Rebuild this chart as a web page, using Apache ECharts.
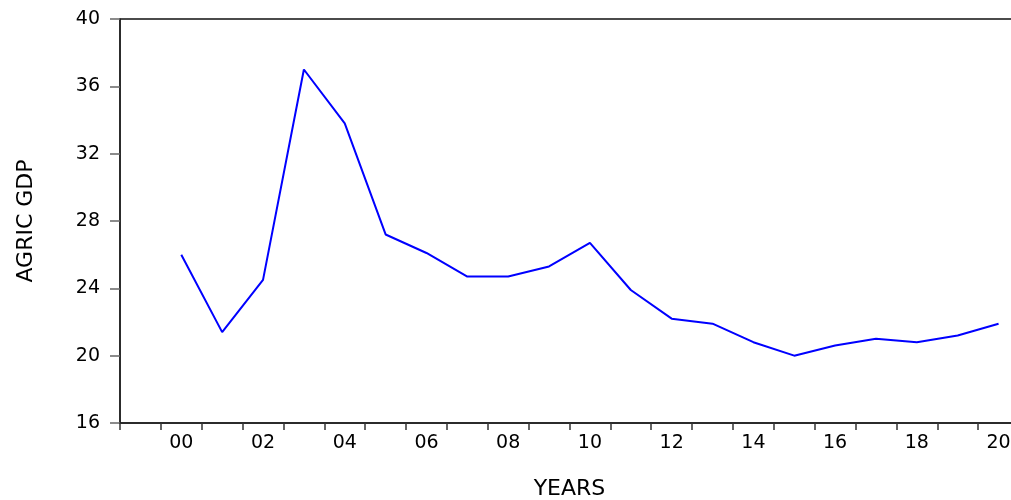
<!DOCTYPE html>
<html>
<head>
<meta charset="utf-8">
<script src="https://cdn.jsdelivr.net/npm/echarts@6/dist/echarts.min.js"></script>
<style>
  html, body { margin: 0; padding: 0; background: #fff; overflow: hidden; }
  /* plot runs a little past the right edge, like the cropped original */
  #main { width: 1020px; height: 500px; }
</style>
</head>
<body>
<div id="main"></div>
<script>
// years on the axis, 1999 is an empty band like the original plot
var years = ['1999', '2000', '2001', '2002', '2003', '2004', '2005', '2006', '2007', '2008', '2009',
  '2010', '2011', '2012', '2013', '2014', '2015', '2016', '2017', '2018', '2019', '2020'];
var agricGdp = ['-', 26.0, 21.4, 24.5, 37.0, 33.8, 27.2, 26.1, 24.7, 24.7, 25.3,
  26.7, 23.9, 22.2, 21.9, 20.8, 20.0, 20.6, 21.0, 20.8, 21.2, 21.9];
var yMin = 16, yMax = 40, yStep = 4;

var chart = echarts.init(document.getElementById('main'), null, { renderer: 'canvas' });

var option = {
  animation: false,
  backgroundColor: '#fff',
  grid: {
    left: 120,
    right: 1,
    top: 19,
    bottom: 77,
    outerBoundsMode: 'none',
    show: true,
    borderColor: '#111',
    borderWidth: 1.5
  },
  xAxis: {
    type: 'category',
    data: years,
    boundaryGap: true,
    name: 'YEARS',
    nameLocation: 'middle',
    nameGap: 55,
    nameTextStyle: {
      fontFamily: 'DejaVu Sans',
      fontSize: 22,
      color: '#000'
    },
    axisLine: { lineStyle: { color: '#222', width: 1.5 } },
    axisTick: {
      show: true,
      interval: 0,
      length: 7,
      lineStyle: { color: '#333', width: 1.5 }
    },
    axisLabel: {
      interval: function (i, v) { return parseInt(v) % 2 === 0; },
      formatter: function (v) { return v.slice(2); },
      margin: 11,
      fontFamily: 'DejaVu Sans',
      fontSize: 19,
      color: '#000'
    },
    splitLine: { show: false }
  },
  yAxis: {
    type: 'value',
    min: yMin,
    max: yMax,
    interval: yStep,
    name: 'AGRIC GDP',
    nameLocation: 'middle',
    nameGap: 83,
    nameTextStyle: {
      fontFamily: 'DejaVu Sans',
      fontSize: 22,
      color: '#000'
    },
    axisLine: { show: true, lineStyle: { color: '#222', width: 1.5 } },
    axisTick: {
      show: true,
      length: 10,
      lineStyle: { color: '#666', width: 1.5 }
    },
    axisLabel: {
      margin: 20,
      fontFamily: 'DejaVu Sans',
      fontSize: 19,
      color: '#000'
    },
    splitLine: { show: false }
  },
  series: [
    {
      name: 'AGRIC GDP',
      type: 'line',
      data: agricGdp,
      showSymbol: false,
      symbol: 'none',
      connectNulls: false,
      lineStyle: { color: '#0000ff', width: 2 },
      itemStyle: { color: '#0000ff' }
    }
  ]
};

chart.setOption(option);
</script>
</body>
</html>
